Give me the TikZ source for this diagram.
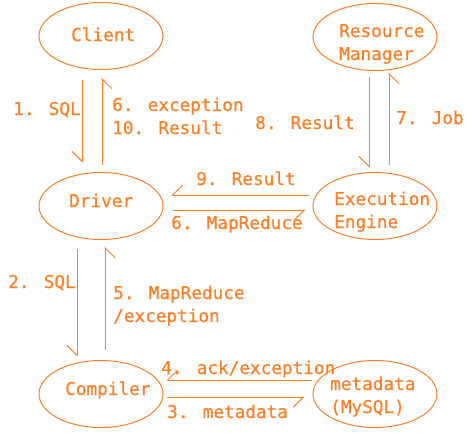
\documentclass[tikz,border=0pt]{standalone}
\usepackage{fontspec}
\newfontfamily\diagfont{DejaVu Sans Mono}[FakeBold=0.6]
\usetikzlibrary{shapes.geometric, arrows.meta}
\definecolor{paintorange}{RGB}{255,127,39}
\tikzset{
  % component of the system
  comp/.style={ellipse, draw=paintorange, line width=1pt, minimum width=124pt,
    minimum height=67pt, inner sep=0pt},
  % plain orange text
  txt/.style={font=\fontsize{17.7}{23}\selectfont\diagfont, text=paintorange,
    inner sep=0pt, anchor=base west, align=left},
  % message between components (half barb)
  flow/.style={draw=paintorange, line width=1pt,
    -{Straight Barb[harpoon, swap, length=10pt, width=20pt]}},
}

\begin{document}
\begin{tikzpicture}[x=1pt, y=-1pt]
  \useasboundingbox (0,0) rectangle (467,434);
  % components
  \node[comp] (client) at (101,36) {};
  \node[comp] (rm) at (375,37) {};
  \node[comp] (driver) at (101,206) {};
  \node[comp] (ee) at (375,206) {};
  \node[comp] (compiler) at (101,394) {};
  \node[comp] (meta) at (375,394) {};
  \node[txt] (client text) at (71,41) {Client};
  \node[txt] (rm text) at (339,60) {Resource\\Manager};
  \node[txt] (driver text) at (69,207) {Driver};
  \node[txt] (ee text) at (334,228) {Execution\\Engine};
  \node[txt] (compiler text) at (65,395) {Compiler};
  \node[txt] (meta text) at (330,413) {metadata\\(MySQL)};
  % messages
  \draw[flow, shorten <=9.5pt, shorten >=9.5pt] ([xshift=-19pt]client.south) -- ([xshift=-19pt]driver.north);
  \draw[flow, shorten <=7.5pt, shorten >=7.5pt] ([xshift=1pt]driver.north) -- ([xshift=1pt]client.south);
  \draw[flow, shorten <=8.5pt, shorten >=3.5pt] ([xshift=-24pt]driver.south) -- ([xshift=-24pt]compiler.north);
  \draw[flow, shorten <=10.5pt, shorten >=6.5pt] ([xshift=4pt]compiler.north) -- ([xshift=4pt]driver.south);
  \draw[flow, shorten <=4pt, shorten >=8pt] ([yshift=11pt]ee.west) -- ([yshift=11pt]driver.east);
  \draw[flow, shorten <=9pt, shorten >=7pt] ([yshift=-4pt]driver.east) -- ([yshift=-4pt]ee.west);
  \draw[flow, shorten <=5.5pt, shorten >=4.5pt] ([xshift=-6pt]rm.south) -- ([xshift=-6pt]ee.north);
  \draw[flow, shorten <=7.5pt, shorten >=1.5pt] ([xshift=14pt]ee.north) -- ([xshift=14pt]rm.south);
  \draw[flow, shorten <=1pt, shorten >=3pt] ([yshift=14pt]meta.west) -- ([yshift=14pt]compiler.east);
  \draw[flow, shorten <=3pt, shorten >=8pt] ([yshift=-3pt]compiler.east) -- ([yshift=-3pt]meta.west);
  % labels
  \node[txt] (sql one) at (13,115) {1. SQL};
  \node[txt] (exc result) at (112,134) {6. exception\\10. Result};
  \node[txt] (rm result) at (255,129) {8. Result};
  \node[txt] (job) at (396,124) {7. Job};
  \node[txt] (ee result) at (196,185) {9. Result};
  \node[txt] (mr) at (171,229) {6. MapReduce};
  \node[txt] (sql two) at (8,288) {2. SQL};
  \node[txt] (mr exc) at (113,322) {5. MapReduce\\/exception};
  \node[txt] (ack) at (161,374) {4. ack/exception};
  \node[txt] (meta label) at (167,418) {3. metadata};
\end{tikzpicture}
\end{document}
